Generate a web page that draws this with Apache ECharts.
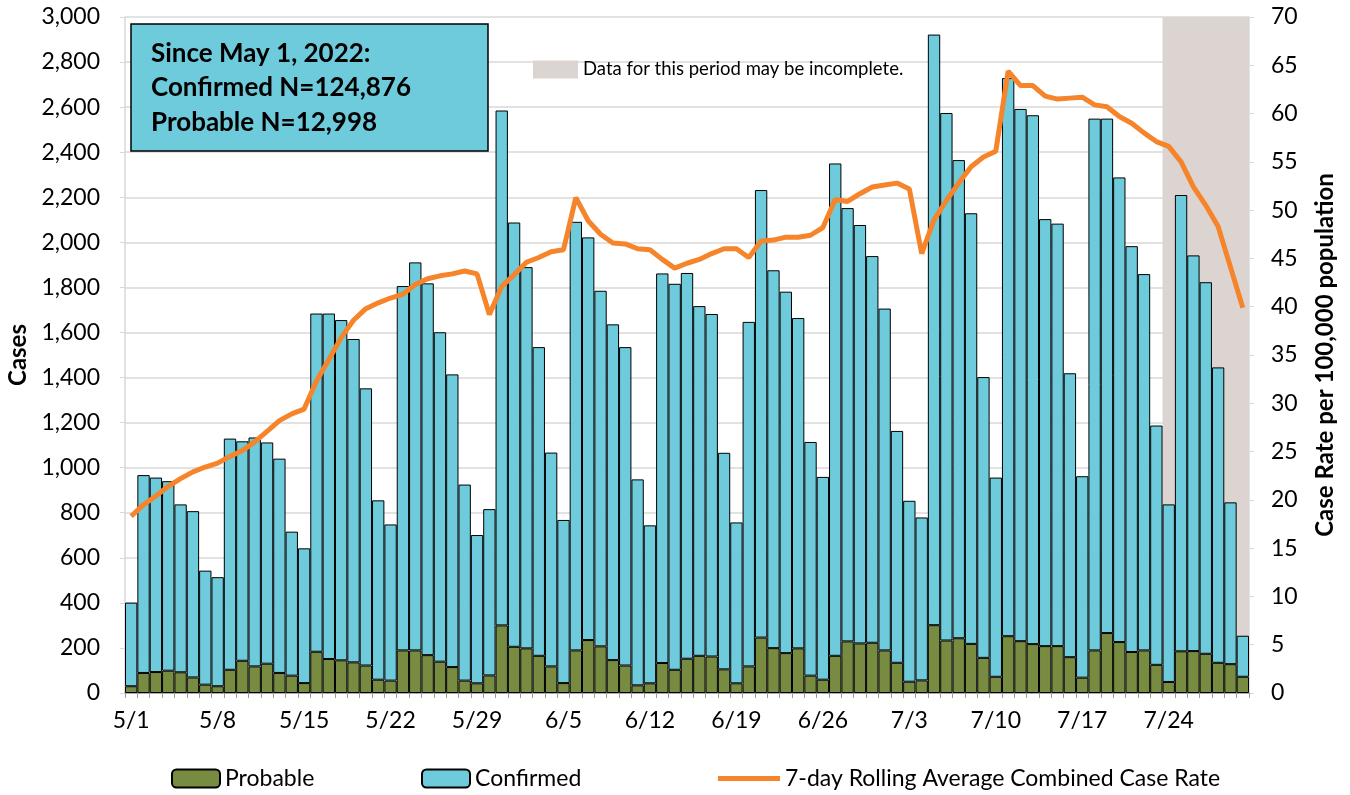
<!DOCTYPE html>
<html>
<head>
<meta charset="utf-8">
<title>Cases since May 1, 2022</title>
<script src="https://cdn.jsdelivr.net/npm/echarts@6/dist/echarts.min.js"></script>
<style>
  html, body { margin: 0; padding: 0; background: #fff; }
  #chart { width: 1350px; height: 795px; }
</style>
</head>
<body>
<div id="chart"></div>
<script>
const dates = [
  '5/1', '5/2', '5/3', '5/4', '5/5', '5/6', '5/7', '5/8', '5/9', '5/10', '5/11', '5/12', '5/13', '5/14', '5/15', '5/16',
  '5/17', '5/18', '5/19', '5/20', '5/21', '5/22', '5/23', '5/24', '5/25', '5/26', '5/27', '5/28', '5/29', '5/30', '5/31',
  '6/1', '6/2', '6/3', '6/4', '6/5', '6/6', '6/7', '6/8', '6/9', '6/10', '6/11', '6/12', '6/13', '6/14', '6/15',
  '6/16', '6/17', '6/18', '6/19', '6/20', '6/21', '6/22', '6/23', '6/24', '6/25', '6/26', '6/27', '6/28', '6/29', '6/30',
  '7/1', '7/2', '7/3', '7/4', '7/5', '7/6', '7/7', '7/8', '7/9', '7/10', '7/11', '7/12', '7/13', '7/14', '7/15',
  '7/16', '7/17', '7/18', '7/19', '7/20', '7/21', '7/22', '7/23', '7/24', '7/25', '7/26', '7/27', '7/28', '7/29', '7/30'
]

const probable = [
  30, 89, 93, 99, 92, 69, 37, 30, 103, 143, 118, 130, 89, 77, 44, 183,
  151, 145, 136, 122, 59, 55, 189, 189, 168, 139, 115, 55, 43, 78, 300,
  205, 198, 165, 118, 44, 189, 235, 207, 146, 122, 34, 43, 133, 103, 152,
  165, 162, 105, 43, 118, 246, 199, 177, 198, 77, 59, 165, 229, 220, 223,
  189, 134, 50, 56, 301, 233, 243, 218, 156, 72, 252, 230, 217, 208, 208,
  159, 68, 189, 266, 226, 182, 189, 125, 49, 185, 186, 174, 134, 128, 72
]

const confirmed = [
  371, 878, 863, 841, 745, 738, 506, 484, 1026, 974, 1016, 982, 951, 639, 598, 1501,
  1533, 1510, 1435, 1230, 796, 693, 1617, 1722, 1650, 1462, 1299, 870, 658, 738, 2285,
  1883, 1692, 1370, 949, 724, 1902, 1787, 1578, 1490, 1413, 914, 701, 1729, 1713, 1712,
  1552, 1520, 961, 714, 1529, 1986, 1677, 1604, 1466, 1037, 900, 2185, 1923, 1857, 1716,
  1517, 1029, 803, 723, 2621, 2341, 2122, 1911, 1246, 884, 2477, 2362, 2347, 1895, 1875,
  1260, 894, 2360, 2283, 2062, 1801, 1670, 1062, 788, 2025, 1756, 1649, 1311, 718, 182
]

// 7-day rolling average combined case rate per 100,000
const rollingRate = [
  18.3, 19.5, 20.4, 21.4, 22.2, 22.9, 23.4, 23.8, 24.5, 25.1, 26.0, 27.1, 28.2, 28.9, 29.4, 32.3,
  34.5, 36.8, 38.6, 39.8, 40.4, 40.9, 41.3, 42.3, 42.9, 43.2, 43.4, 43.7, 43.4, 39.2, 42.1,
  43.3, 44.6, 45.1, 45.7, 45.9, 51.3, 48.9, 47.5, 46.6, 46.5, 46.0, 45.9, 44.9, 44.0, 44.5,
  44.9, 45.5, 46.0, 46.0, 45.1, 46.8, 46.9, 47.2, 47.2, 47.4, 48.2, 51.1, 50.9, 51.7, 52.4,
  52.6, 52.8, 52.2, 45.5, 49.0, 51.0, 52.8, 54.5, 55.5, 56.1, 64.4, 62.9, 62.9, 61.8, 61.5,
  61.6, 61.7, 60.9, 60.7, 59.7, 59.0, 58.0, 57.1, 56.6, 55.0, 52.4, 50.5, 48.3, 44.1, 39.9
]

// first day whose data may be incomplete (shaded to the end)
const incompleteFrom = '7/24'

const summaryLines = ['Since May 1, 2022:', 'Confirmed N=124,876', 'Probable N=12,998']

const casesMax = 3000
const rateMax = 70

const FONT = 'Lato'
const SHADE = '#dcd4d0'
const noteName = 'Data for this period may be incomplete.'
const lineName = '7-day Rolling Average Combined Case Rate'

const legendText = { fontSize: 23, color: '#000', fontFamily: FONT }

const options = {
    animation: false,
    textStyle: { fontFamily: FONT },
    grid: { left: 125, right: 101, top: 17, bottom: 102, outerBoundsMode: 'none' },
    legend: [
        {
            data: ['Probable'], left: 171, top: 767, padding: 0,
            itemWidth: 48, itemHeight: 18, textStyle: legendText
        },
        {
            data: ['Confirmed'], left: 421, top: 767, padding: 0,
            itemWidth: 48, itemHeight: 18, textStyle: legendText
        },
        {
            data: [{ name: lineName, icon: 'rect' }], left: 718, top: 767, padding: 0,
            itemWidth: 62, itemHeight: 5, textStyle: legendText
        },
        {
            data: [{ name: noteName, icon: 'rect' }], left: 533, top: 60, padding: 0,
            itemWidth: 45, itemHeight: 18,
            textStyle: { fontSize: 18.5, color: '#000', fontFamily: FONT }
        }
    ],
    xAxis: [
        {
            type: 'category',
            data: dates,
            axisLine: { lineStyle: { color: '#9a9a9a', width: 1.5 } },
            axisTick: { show: true, interval: 0, length: 5, lineStyle: { color: '#9a9a9a' } },
            axisLabel: { interval: 6, fontSize: 23, color: '#000', margin: 16, fontFamily: FONT }
        },
        {
            // hidden day-index axis, used only to place the shaded band on whole days
            type: 'value',
            min: 0,
            max: dates.length,
            show: false
        }
    ],
    yAxis: [
        {
            type: 'value',
            min: 0,
            max: casesMax,
            interval: 200,
            name: 'Cases',
            nameLocation: 'middle',
            nameGap: 95,
            nameRotate: 90,
            nameTextStyle: { fontSize: 24, fontWeight: 'bold', color: '#000', fontFamily: FONT },
            axisLine: { show: true, lineStyle: { color: '#d9d9d9', width: 1.5 } },
            splitLine: { lineStyle: { color: '#d9d9d9', width: 1.5 } },
            axisLabel: {
                fontSize: 23, color: '#000', margin: 25, fontFamily: FONT,
                formatter: v => v.toLocaleString('en-US')
            }
        },
        {
            type: 'value',
            min: 0,
            max: rateMax,
            interval: 5,
            name: 'Case Rate per 100,000 population',
            nameLocation: 'middle',
            nameGap: 64,
            nameRotate: 90,
            nameTextStyle: { fontSize: 24, fontWeight: 'bold', color: '#000', fontFamily: FONT },
            axisLine: { show: true, lineStyle: { color: '#d9d9d9', width: 1.5 } },
            splitLine: { show: false },
            axisLabel: { fontSize: 23, color: '#000', margin: 22, fontFamily: FONT }
        }
    ],
    series: [
        {
            name: noteName,
            type: 'line',
            xAxisIndex: 1,
            yAxisIndex: 0,
            data: [],
            symbol: 'none',
            itemStyle: { color: SHADE },
            lineStyle: { color: SHADE },
            markArea: {
                silent: true,
                itemStyle: { color: SHADE, opacity: 1 },
                data: [[
                    { xAxis: dates.indexOf(incompleteFrom), yAxis: casesMax },
                    { xAxis: dates.length, yAxis: 0 }
                ]]
            },
            z: 1
        },
        {
            name: 'Probable',
            type: 'bar',
            stack: 'cases',
            data: probable,
            barCategoryGap: '0%',
            itemStyle: { color: '#778c41', borderColor: '#000', borderWidth: 1 },
            z: 2
        },
        {
            name: 'Confirmed',
            type: 'bar',
            stack: 'cases',
            data: confirmed,
            barCategoryGap: '0%',
            itemStyle: { color: '#6dcbdc', borderColor: '#000', borderWidth: 1 },
            z: 2
        },
        {
            name: lineName,
            type: 'line',
            yAxisIndex: 1,
            data: rollingRate,
            symbol: 'none',
            itemStyle: { color: '#f5842a' },
            lineStyle: { color: '#f5842a', width: 5 },
            z: 3
        }
    ],
    graphic: [
        {
            type: 'rect',
            z: 10,
            shape: { x: 131, y: 24, width: 357, height: 127 },
            style: { fill: '#6dcbdc', stroke: '#000', lineWidth: 1.5 }
        },
        {
            type: 'text',
            z: 11,
            x: 151,
            y: 36,
            style: {
                text: summaryLines.join('\n'),
                fontSize: 26,
                fontWeight: 'bold',
                lineHeight: 34.5,
                fill: '#000',
                fontFamily: FONT
            }
        }
    ]
}

const chart = echarts.init(document.getElementById('chart'))
chart.setOption(options)
window.addEventListener('resize', function () {
    chart && chart.resize()
})
</script>
</body>
</html>
